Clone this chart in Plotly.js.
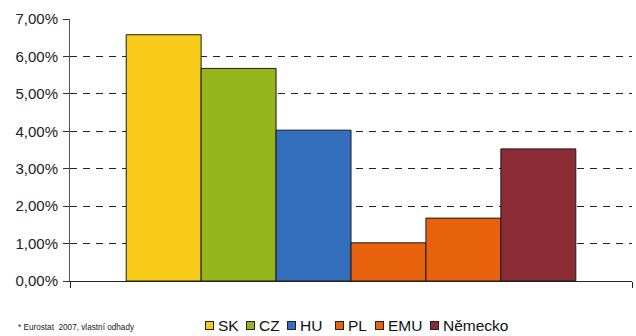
<!DOCTYPE html>
<html>
<head>
<meta charset="utf-8">
<script src="https://cdn.plot.ly/plotly-3.0.1.min.js"></script>
<style>
html,body{margin:0;padding:0;background:#fff;}
#chart{width:636px;height:336px;}
</style>
</head>
<body>
<div id="chart"></div>
<script>
// ---- data ----
var categories = ['2007'];
var seriesNames = ['SK', 'CZ', 'HU', 'PL', 'EMU', 'Německo'];
var seriesValues = [0.0658, 0.0568, 0.0403, 0.0102, 0.0168, 0.0353];
var seriesColors = ['#f8cb19', '#95b51b', '#336fbd', '#e8610d', '#e8610d', '#8b2b35'];
var footnote = '* Eurostat&nbsp; 2007, vlastní odhady';

// ---- layout constants ----
var W = 636, H = 336;
var M = {l: 70, r: 4, t: 19, b: 55};
var PW = W - M.l - M.r, PH = H - M.t - M.b;
var FONT = 'Liberation Sans, Arial, sans-serif';
var legendIconPx = [205, 246, 287, 335, 375, 430];   // legend entry positions (page px)
var legendCenterY = 325.5;

var traces = seriesNames.map(function (n, i) {
  return {
    type: 'bar',
    name: n,
    x: categories,
    y: [seriesValues[i]],
    marker: {color: seriesColors[i], line: {color: '#1a1a1a', width: 1}},
    hoverinfo: 'name+y'
  };
});

function px2x(px) { return (px - M.l) / PW; }
function py2y(py) { return (H - M.b - py) / PH; }

var annotations = [];
seriesNames.forEach(function (n, i) {
  annotations.push({
    xref: 'paper', yref: 'paper',
    x: px2x(legendIconPx[i]), y: py2y(legendCenterY),
    xanchor: 'left', yanchor: 'middle',
    text: ' ', showarrow: false,
    width: 7, height: 7, borderpad: 0,
    bgcolor: seriesColors[i], bordercolor: '#222', borderwidth: 1,
    font: {size: 4}
  });
  annotations.push({
    xref: 'paper', yref: 'paper',
    x: px2x(legendIconPx[i] + 12), y: py2y(legendCenterY),
    xanchor: 'left', yanchor: 'middle',
    text: n, showarrow: false, borderpad: 0,
    font: {family: FONT, size: 15.5, color: '#111'}
  });
});
annotations.push({
  xref: 'paper', yref: 'paper',
  x: px2x(17), y: py2y(327),
  xanchor: 'left', yanchor: 'middle',
  text: footnote, showarrow: false, borderpad: 0,
  font: {family: FONT, size: 8.2, color: '#222'}
});

var layout = {
  width: W, height: H,
  margin: M,
  paper_bgcolor: '#fff', plot_bgcolor: '#fff',
  separators: ', ',
  barmode: 'group',
  bargap: 0.2,
  bargroupgap: 0,
  showlegend: false,
  font: {family: FONT, color: '#222'},
  xaxis: {
    type: 'category',
    range: [-0.5, 0.5],
    showline: true, linecolor: '#222', linewidth: 1,
    ticks: 'outside', tickson: 'boundaries', ticklen: 6, tickcolor: '#222',
    showticklabels: false, showgrid: false, zeroline: false, fixedrange: true
  },
  yaxis: {
    range: [0, 0.07],
    dtick: 0.01, tick0: 0,
    tickformat: '.2%',
    showline: true, linecolor: '#555', linewidth: 1,
    ticks: 'outside', ticklen: 6, tickcolor: '#333',
    showgrid: true, gridcolor: '#222', gridwidth: 1, griddash: '7px,6px',
    zeroline: false,
    tickfont: {family: FONT, size: 15, color: '#222'},
    ticklabelstandoff: 2,
    fixedrange: true
  },
  annotations: annotations
};

Plotly.newPlot('chart', traces, layout, {displayModeBar: false, staticPlot: true});
</script>
</body>
</html>
